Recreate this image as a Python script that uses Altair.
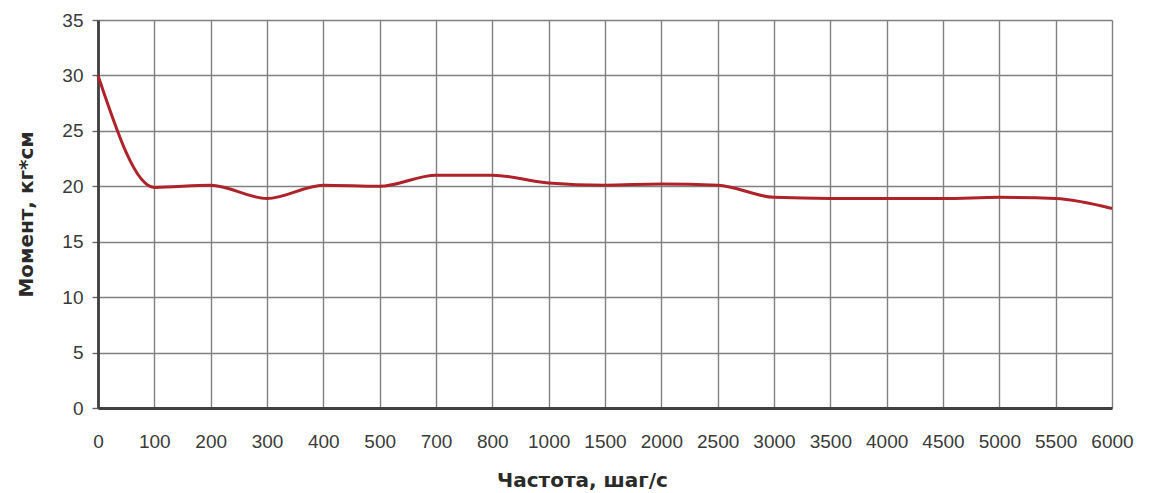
import altair as alt
import pandas as pd

freq = ["0", "100", "200", "300", "400", "500", "700", "800", "1000", "1500",
        "2000", "2500", "3000", "3500", "4000", "4500", "5000", "5500", "6000"]
torque = [30.0, 19.9, 20.1, 18.9, 20.1, 20.0, 21.0, 21.0, 20.3, 20.1,
          20.2, 20.1, 19.0, 18.9, 18.9, 18.9, 19.0, 18.9, 18.0]

df = pd.DataFrame({"freq": freq, "torque": torque})

chart = alt.Chart(df).mark_line(
    color="#ad2329", strokeWidth=3, interpolate="monotone"
).encode(
    x=alt.X("freq:O", sort=freq,
            scale=alt.Scale(type="point", padding=0),
            axis=alt.Axis(title="Частота, шаг/с", labelAngle=0,
                          ticks=False, labelPadding=24, titlePadding=19,
                          titleX=484, titleAlign="center",
                          grid=True)),
    y=alt.Y("torque:Q",
            scale=alt.Scale(domain=[0, 35], nice=False),
            axis=alt.Axis(title="Момент, кг*см", values=list(range(0, 36, 5)),
                          tickSize=6, labelPadding=9, titlePadding=25,
                          grid=True)),
).properties(
    width=1014, height=388,
    autosize=alt.AutoSizeParams(type="none"),
    padding={"left": 90, "top": 12, "right": 31, "bottom": 85},
).configure_view(
    strokeWidth=0
).configure_axis(
    labelFont="Liberation Sans", labelFontSize=19, labelColor="#3a3a3a",
    titleFont="DejaVu Sans", titleFontSize=20, titleColor="#2a2a2a",
    titleFontWeight="bold",
    gridColor="#808080", gridWidth=1.4, gridOpacity=1,
    domainColor="#404040", domainWidth=2.8,
    tickColor="#666666", tickWidth=1.4,
)

chart.save("out.html", embed_options={"renderer": "svg", "actions": False})
